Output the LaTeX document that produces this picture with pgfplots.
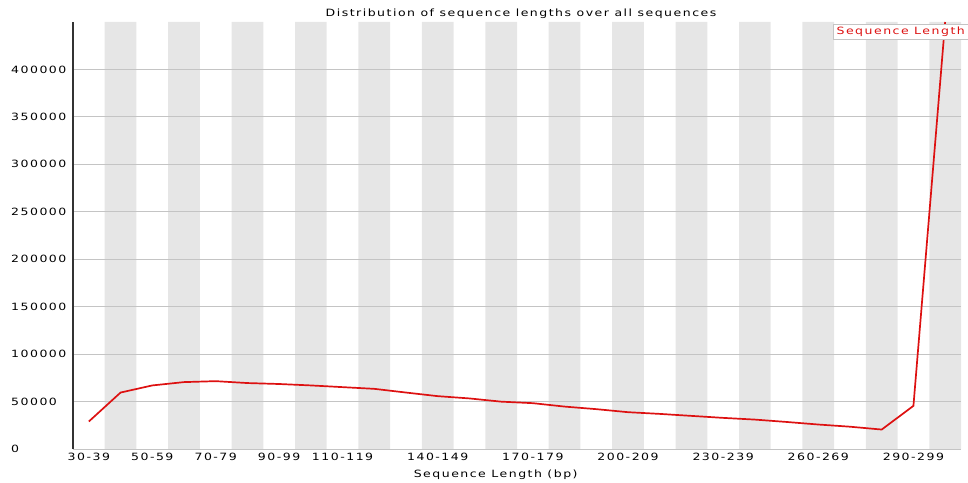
\documentclass[border=0pt]{standalone}
\usepackage{fontspec}
\setmainfont[FakeStretch=1.25,LetterSpace=15]{DejaVu Sans}
\usepackage{pgfplots}
\pgfplotsset{compat=1.18}
\definecolor{stripe}{HTML}{E6E6E6}
\definecolor{gridgray}{HTML}{C4C4C4}
\definecolor{qcred}{HTML}{DD1111}

\begin{document}
\begin{tikzpicture}
\begin{axis}[
    name=ax,
    set layers,
    scale only axis,
    width=888pt, height=427pt,
    xmin=-0.5, xmax=27.5,
    ymin=0, ymax=450000,
    font=\fontsize{10}{12}\selectfont,
    axis x line*=bottom,
    axis y line*=left,
    axis line style={-},
    x axis line style={draw=gridgray, line width=1pt},
    y axis line style={draw=black!80, line width=1.2pt},
    xtick={0,2,4,6,8,11,14,17,20,23,26},
    xticklabels={30-39,50-59,70-79,90-99,110-119,140-149,170-179,200-209,230-239,260-269,290-299},
    ytick={0,50000,...,400000},
    scaled y ticks=false,
    major tick length=0pt,
    /pgf/number format/assume math mode=true,
    /pgf/number format/fixed,
    /pgf/number format/1000 sep={},
    yticklabel style={anchor=west, xshift=-62pt, inner sep=0pt},
    xticklabel style={inner sep=0pt, yshift=-4pt},
    ymajorgrids,
    grid style={draw=gridgray, line width=1pt},
    title={Distribution of sequence lengths over all sequences},
    title style={at={(0.5045,1)}, anchor=south, yshift=-3pt, inner sep=0pt},
    xlabel={Sequence Length (bp)},
    xlabel style={at={(0.476,0)}, anchor=north, yshift=-21pt, inner sep=0pt},
    legend style={at={(1.0079,0.995)}, anchor=north east, draw=gridgray,
        fill=white, text=qcred, inner sep=1pt, font=\fontsize{10}{12}\selectfont},
    legend cell align=left,
]
\addplot[ybar, bar width=1, fill=stripe, draw=none, on layer=axis background, forget plot]
    coordinates {(1,450000) (3,450000) (5,450000) (7,450000) (9,450000) (11,450000)
    (13,450000) (15,450000) (17,450000) (19,450000) (21,450000) (23,450000)
    (25,450000) (27,450000)};
\addplot[qcred, line width=1.7pt, mark=none, legend image code/.code={}] coordinates {
    (0,29000) (1,59500) (2,67000) (3,70500) (4,71500) (5,69500) (6,68500)
    (7,67000) (8,65200) (9,63400) (10,59500) (11,55700) (12,53300) (13,49900)
    (14,48300) (15,44700) (16,42000) (17,38800) (18,37000) (19,34900) (20,32800)
    (21,31000) (22,28500) (23,25800) (24,23500) (25,20500) (26,45500) (27,450000)
};
\addlegendentry{Sequence Length}
\end{axis}
\pgfresetboundingbox
\path[use as bounding box] ([shift={(-73pt,-33pt)}]ax.south west) rectangle ++(968pt,482pt);
\end{tikzpicture}
\end{document}
